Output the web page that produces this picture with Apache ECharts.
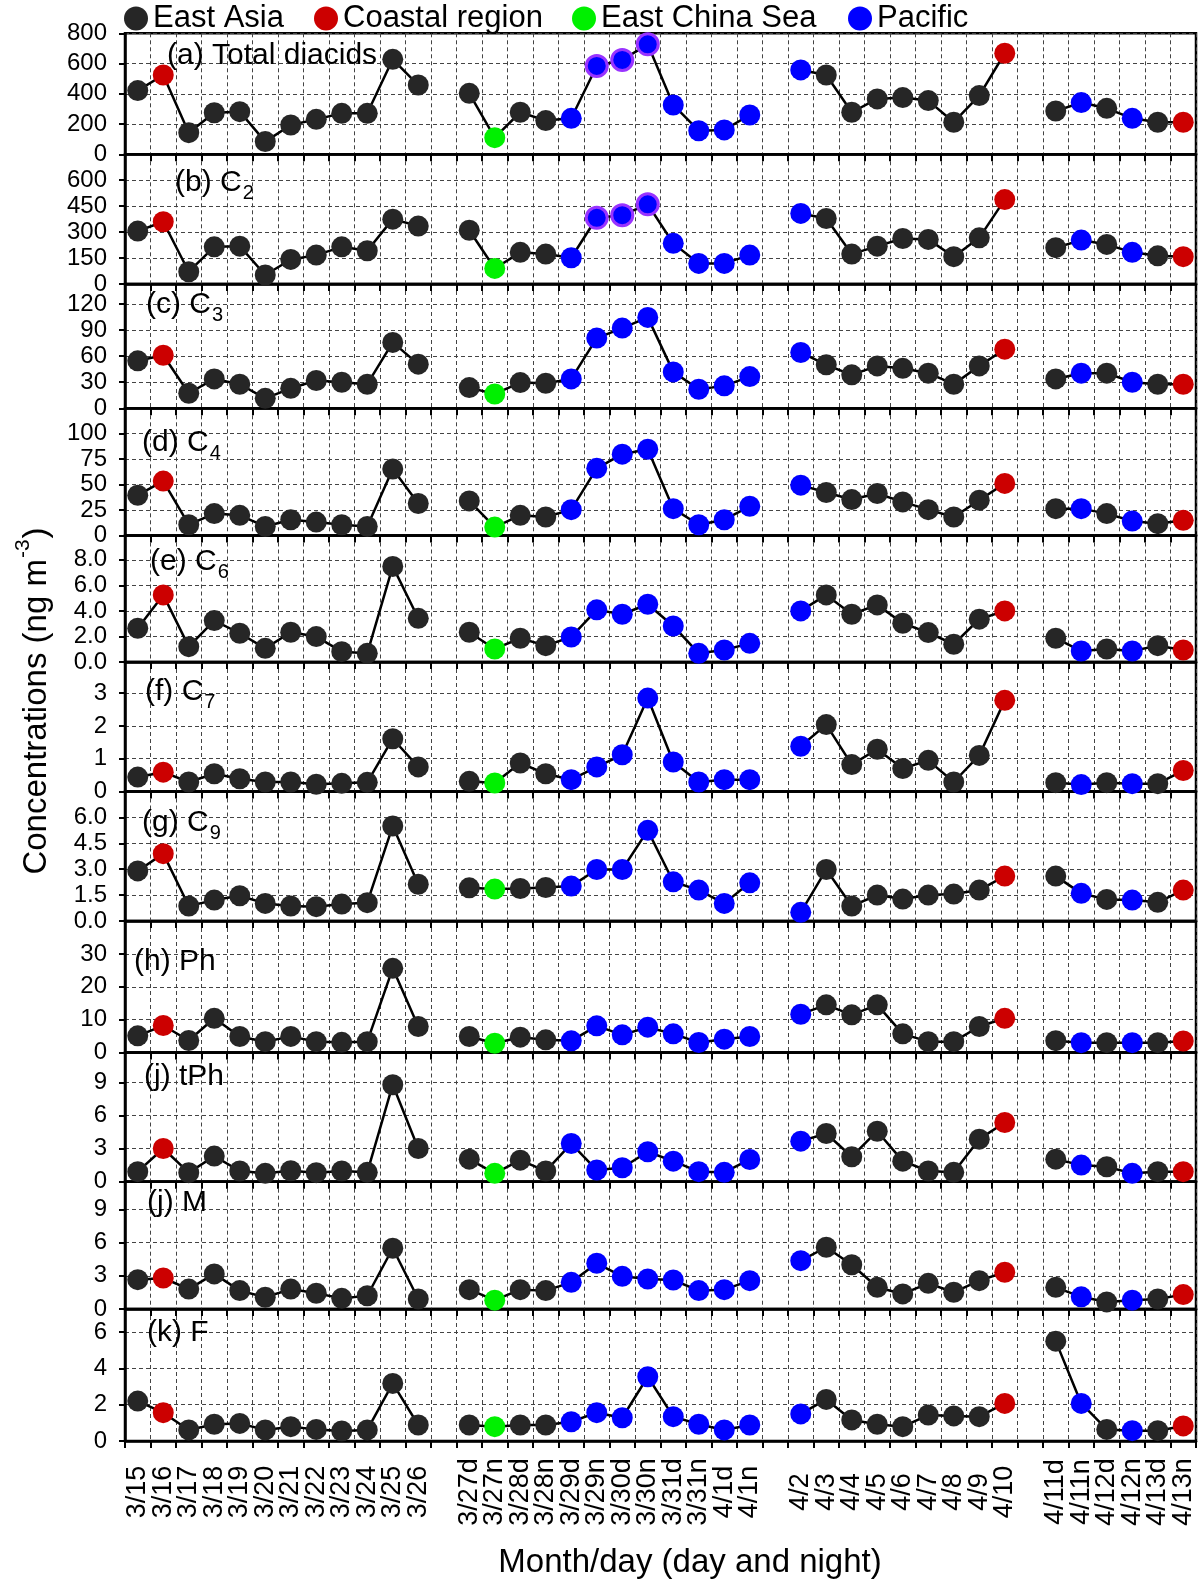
<!DOCTYPE html>
<html>
<head>
<meta charset="utf-8">
<script src="https://cdn.jsdelivr.net/npm/echarts@6/dist/echarts.min.js"></script>
<style>
html, body { margin: 0; padding: 0; background: #fff; }
#main { width: 1200px; height: 1584px; }
</style>
</head>
<body>
<div id="main"></div>
<script>
// 样品日期（白天 d / 夜间 n），四段之间留空
var categories = ['3/15','3/16','3/17','3/18','3/19','3/20','3/21','3/22','3/23','3/24','3/25','3/26',
    '3/27d','3/27n','3/28d','3/28n','3/29d','3/29n','3/30d','3/30n','3/31d','3/31n','4/1d','4/1n',
    '4/2','4/3','4/4','4/5','4/6','4/7','4/8','4/9','4/10',
    '4/11d','4/11n','4/12d','4/12n','4/13d','4/13n'];
var groupSizes = [12, 12, 9, 6];

// 气团来源：E 东亚, C 沿海, S 东海, P 太平洋
var regions = ('ECEEEEEEEEEE' + 'ESEEPPPPPPPP' + 'PEEEEEEEC' + 'EPEPEC').split('');

// 各组分浓度 (ng m-3)
var totalDiacids = [421,524,143,275,282,84,194,231,271,271,628,458,
    403,110,278,223,238,584,624,727,326,156,161,260,
    558,524,278,366,375,355,212,388,668,
    286,342,304,238,212,212];
var c2 = [306,360,71,215,219,52,142,167,215,192,375,335,
    311,90,183,173,152,383,398,461,235,119,119,167,
    408,379,173,219,263,258,158,267,488,
    210,254,229,183,163,158];
var c3 = [54.6,61,17.3,33.8,27.7,11.5,23,32,30,27.7,75.8,50.8,
    23.8,16.5,29.6,28.8,33.8,80.8,92.3,104.6,41.9,21.9,25.8,36.5,
    64.2,50,38.5,48.8,46,40.4,27.7,48.8,68,
    33.8,40.4,40.4,30,27.7,27.7];
var c4 = [39.6,53.5,10.6,21.5,19.8,8.9,15.5,13.2,10.6,8.9,65.3,31.4,
    34,8.3,19.8,18.2,25.4,66,79.9,84.8,26.4,10.6,15.5,28.7,
    49.5,42.2,35.3,41.3,33,25.4,18.2,34.7,51.2,
    26.4,26.4,21.5,14.2,11.6,14.9];
var c6 = [2.64,5.25,1.2,3.24,2.25,1.07,2.33,1.99,0.81,0.68,7.48,3.42,
    2.33,1.02,1.86,1.28,1.96,4.08,3.74,4.52,2.82,0.68,0.94,1.46,
    4.0,5.25,3.74,4.47,3.03,2.3,1.39,3.35,4.0,
    1.86,0.86,1.02,0.86,1.28,0.94];
var c7 = [0.44,0.59,0.29,0.54,0.39,0.29,0.29,0.22,0.25,0.28,1.61,0.75,
    0.31,0.26,0.87,0.54,0.36,0.75,1.12,2.85,0.9,0.29,0.36,0.36,
    1.38,2.04,0.82,1.29,0.7,0.95,0.29,1.1,2.78,
    0.27,0.21,0.27,0.24,0.24,0.64];
var c9 = [2.9,3.9,0.87,1.21,1.46,1.02,0.87,0.83,0.98,1.06,5.5,2.13,
    1.92,1.85,1.88,1.94,2.02,2.98,2.98,5.25,2.27,1.79,1.02,2.21,
    0.5,2.98,0.87,1.5,1.27,1.5,1.56,1.79,2.6,
    2.6,1.6,1.25,1.21,1.08,1.79];
var ph = [5.07,8.2,3.65,10.4,4.86,3.3,4.9,3.3,3.1,3.3,25.6,7.9,
    4.86,2.8,4.66,3.85,3.55,8.1,5.37,7.7,5.67,3.04,4.05,4.86,
    11.65,14.5,11.45,14.5,5.67,3.3,3.3,7.9,10.4,
    3.6,3.0,3.0,3.0,3.0,3.5];
var tph = [0.91,3.02,0.82,2.33,0.97,0.76,1.0,0.82,0.97,0.85,8.82,3.02,
    2.05,0.76,1.96,0.97,3.47,1.06,1.27,2.72,1.87,0.91,0.85,2.02,
    3.69,4.38,2.27,4.59,1.87,0.97,0.85,3.87,5.38,
    2.05,1.51,1.36,0.76,0.91,0.91];
var m = [2.65,2.8,1.8,3.17,1.66,1.06,1.8,1.42,0.96,1.2,5.49,0.9,
    1.75,0.8,1.75,1.66,2.41,4.13,2.95,2.71,2.62,1.66,1.75,2.56,
    4.37,5.58,4.0,1.96,1.36,2.32,1.51,2.56,3.32,
    1.96,1.1,0.64,0.8,0.9,1.3];
var f = [2.2,1.56,0.61,0.92,0.97,0.61,0.79,0.64,0.55,0.61,3.17,0.88,
    0.88,0.79,0.88,0.88,1.06,1.56,1.28,3.54,1.34,0.92,0.61,0.88,
    1.49,2.29,1.16,0.92,0.79,1.43,1.38,1.34,2.07,
    5.5,2.07,0.64,0.57,0.57,0.83];

var panelValues = [totalDiacids, c2, c3, c4, c6, c7, c9, ph, tph, m, f];
var panelLabels = [['(a) Total diacids', ''], ['(b) C', '2'], ['(c) C', '3'], ['(d) C', '4'],
    ['(e) C', '6'], ['(f) C', '7'], ['(g) C', '9'], ['(h) Ph', ''], ['(j) tPh', ''], ['(j) M', ''], ['(k) F', '']];
var yMax = [800, 750, 143, 125, 9.9, 3.95, 7.5, 40, 11.75, 11.5, 7.27];
var yStep = [200, 150, 30, 25, 2, 1, 1.5, 10, 3, 3, 2];
var yDigits = [0, 0, 0, 0, 1, 0, 1, 0, 0, 0, 0];
// 紫色描边的样品 (3/29n, 3/30d, 3/30n)，只在 (a)(b) 中
var ringIdx = [17, 18, 19];

// 版面
var panelTop = [33.3, 154.3, 284, 408.3, 535.5, 662, 791.5, 921, 1052.5, 1181.7, 1309];
var panelBottom = [154.3, 284, 408.3, 535.5, 662, 791.5, 921, 1052.5, 1181.7, 1309, 1441];
var labelPos = [[167, 56], [175, 183], [146, 305], [142, 443], [150, 562], [145, 692],
    [142, 823], [134, 962], [144, 1077], [147, 1203], [147, 1333]];
var legendLeft = [124, 314, 572, 848];
var xLabelCenter = 1492;   // 横轴刻度文字（竖排）的中心高度

var regionCodes = ['E', 'C', 'S', 'P'];
var regionNames = { E: 'East Asia', C: 'Coastal region', S: 'East China Sea', P: 'Pacific' };
var regionColors = { E: '#262626', C: '#cc0000', S: '#00f000', P: '#0000ff' };
var FONT = 'Liberation Sans';

// 在各段之间插入空位
function spread(arr, blank) {
    var out = [], k = 0;
    groupSizes.forEach(function (n, g) {
        if (g > 0) out.push(blank);
        for (var j = 0; j < n; j++) out.push(arr[k++]);
    });
    return out;
}

var ctx = document.createElement('canvas').getContext('2d');
function textWidth(s, size) {
    ctx.font = size + 'px "' + FONT + '"';
    return ctx.measureText(s).width;
}

var xCats = spread(categories, '');
var last = panelValues.length - 1;
var grids = [], xAxes = [], yAxes = [], series = [], graphics = [];

panelValues.forEach(function (vals, i) {
    grids.push({
        left: 125, right: 4, top: panelTop[i], height: panelBottom[i] - panelTop[i],
        show: true, borderColor: '#000', borderWidth: 2.5
    });
    xAxes.push({
        type: 'category', gridIndex: i, data: xCats, boundaryGap: true,
        axisLine: { lineStyle: { color: '#000', width: 2.5 } },
        axisTick: { show: true, interval: 0, length: 7, lineStyle: { color: '#000', width: 2 } },
        axisLabel: { show: false },
        splitLine: { show: true, interval: 0, lineStyle: { color: '#444', width: 1, type: [4, 3] } }
    });
    yAxes.push({
        type: 'value', gridIndex: i, min: 0, max: yMax[i], interval: yStep[i],
        axisLine: { show: true, lineStyle: { color: '#000', width: 2.5 } },
        axisTick: { show: true, length: 6, lineStyle: { color: '#000', width: 2 } },
        axisLabel: {
            fontSize: 24, fontFamily: FONT, color: '#000', margin: 18,
            showMaxLabel: i === 0, showMinLabel: true,
            formatter: (function (d) { return function (v) { return v.toFixed(d); }; })(yDigits[i])
        },
        splitLine: { show: true, lineStyle: { color: '#444', width: 1, type: [4, 3] } }
    });
    series.push({
        type: 'line', xAxisIndex: i, yAxisIndex: i, data: spread(vals, '-'),
        symbol: 'none', connectNulls: false, silent: true, z: 2,
        lineStyle: { color: '#000', width: 2.5 }
    });
    regionCodes.forEach(function (code) {
        var d = vals.map(function (v, j) {
            if (regions[j] !== code) return '-';
            if (i < 2 && ringIdx.indexOf(j) >= 0) {
                return { value: v, itemStyle: { borderColor: '#9933ff', borderWidth: 3 } };
            }
            return v;
        });
        series.push({
            type: 'scatter', name: regionNames[code], xAxisIndex: i, yAxisIndex: i,
            data: spread(d, '-'), symbol: 'circle', symbolSize: 21, z: 3,
            itemStyle: { color: regionColors[code], opacity: 1 }
        });
    });

    // 面板标题（含下标）
    var lab = panelLabels[i], lp = labelPos[i];
    graphics.push({
        type: 'text', x: lp[0], y: lp[1], z: 10,
        style: { text: lab[0], fontSize: 30, fontFamily: FONT, fill: '#000', align: 'left', verticalAlign: 'middle' }
    });
    if (lab[1]) {
        graphics.push({
            type: 'text', x: lp[0] + textWidth(lab[0], 30) + 1, y: lp[1] + 10, z: 10,
            style: { text: lab[1], fontSize: 20, fontFamily: FONT, fill: '#000', align: 'left', verticalAlign: 'middle' }
        });
    }
});

// 纵轴标题 Concentrations (ng m-3)，旋转 90 度
var yt1 = 'Concentrations (ng m', yt2 = '-3', yt3 = ')';
var w1 = textWidth(yt1, 33), w2 = textWidth(yt2, 21), w3 = textWidth(yt3, 33);
var x0 = -(w1 + w2 + w3) / 2;
graphics.push({
    type: 'group', x: 37, y: 702, rotation: Math.PI / 2,
    children: [
        { type: 'text', x: x0, y: 0, style: { text: yt1, fontSize: 33, fontFamily: FONT, fill: '#000', verticalAlign: 'middle' } },
        { type: 'text', x: x0 + w1 + 1, y: -14, style: { text: yt2, fontSize: 21, fontFamily: FONT, fill: '#000', verticalAlign: 'middle' } },
        { type: 'text', x: x0 + w1 + w2 + 2, y: 0, style: { text: yt3, fontSize: 33, fontFamily: FONT, fill: '#000', verticalAlign: 'middle' } }
    ]
});
// 横轴标题
graphics.push({
    type: 'text', x: 690, y: 1563,
    style: { text: 'Month/day (day and night)', fontSize: 33, fontFamily: FONT, fill: '#000', align: 'center', verticalAlign: 'middle' }
});

// 图例：每个来源一个，按原图位置摆放
var legends = regionCodes.map(function (code, k) {
    return {
        top: 3, left: legendLeft[k], padding: 0, itemWidth: 24, itemHeight: 24, icon: 'circle',
        data: [regionNames[code]],
        textStyle: { fontSize: 31, fontFamily: FONT, color: '#000' }
    };
});

var myChart = echarts.init(document.getElementById('main'));
var option = {
    backgroundColor: '#fff',
    animation: false,
    legend: legends,
    grid: grids,
    xAxis: xAxes,
    yAxis: yAxes,
    series: series,
    graphic: graphics
};
myChart.setOption(option);

// 横轴刻度文字：位置取自最下面一个类目轴，竖排并居中
xCats.forEach(function (c) {
    if (!c) return;
    var px = myChart.convertToPixel({ xAxisIndex: last }, c);
    graphics.push({
        type: 'text', x: px, y: xLabelCenter, rotation: Math.PI / 2,
        style: { text: c, fontSize: 27, fontFamily: FONT, fill: '#000', align: 'center', verticalAlign: 'middle' }
    });
});
myChart.setOption({ graphic: graphics });
</script>
</body>
</html>
